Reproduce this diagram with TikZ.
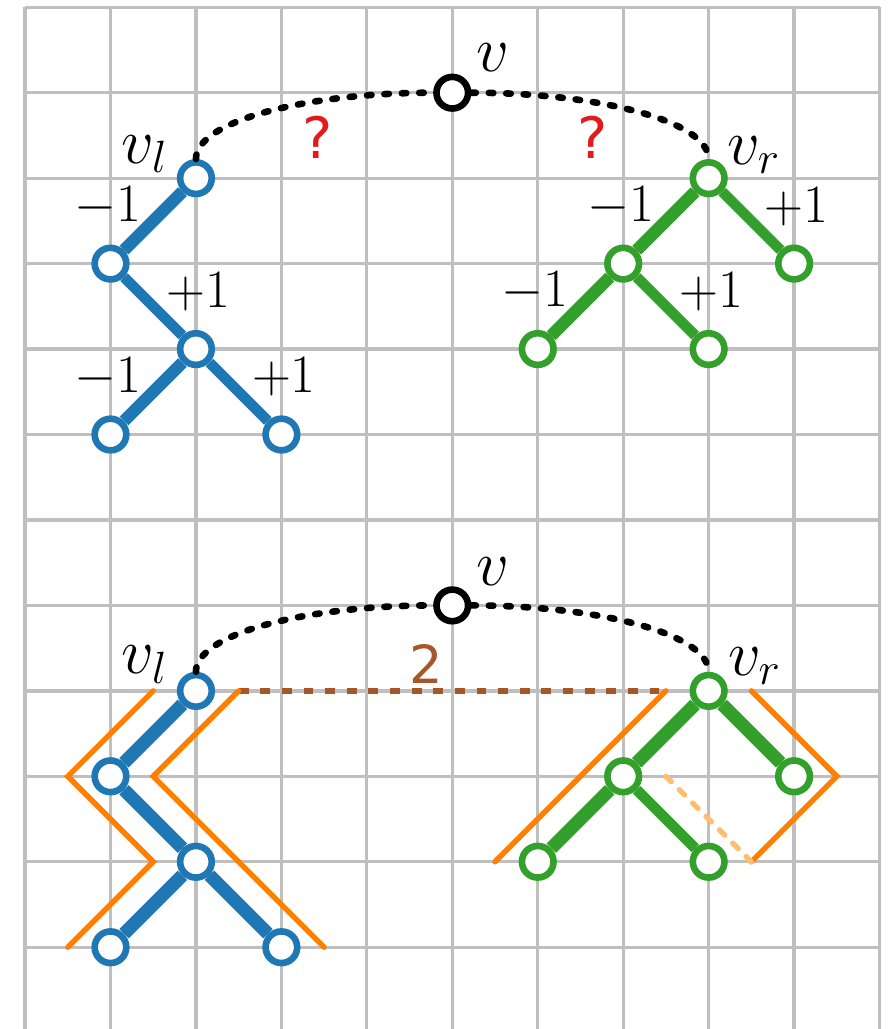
\RequirePackage{fix-cm}
\documentclass[tikz,border=0pt]{standalone}
\usepackage{fontspec}
\newfontfamily\dejavu{DejaVu Sans}
\definecolor{treeblue}{HTML}{1F78B4}
\definecolor{treegreen}{HTML}{33A02C}
\definecolor{cutorange}{HTML}{FF7F00}
\definecolor{paleorange}{HTML}{FDBF6F}
\definecolor{gapbrown}{HTML}{A65628}
\definecolor{askred}{HTML}{E31A1C}
\definecolor{gridgray}{HTML}{BFBFBF}
\newcommand{\arch}[3]{\draw[dotlink] (#1.north) .. controls +(0,0.44) and +(-1.5,0) .. (#2.west);
\draw[dotlink] (#2.east) .. controls +(1.5,0) and +(0,0.44) .. (#3.north);}

\begin{document}
\begin{tikzpicture}[
  vert/.style = {circle, draw, fill=white, line width=2.2pt, inner sep=0pt, minimum size=3.7mm},
  heavy/.style = {line width=4.1pt},
  heavier/.style = {line width=4.4pt},
  light/.style = {line width=3.5pt},
  wt/.style = {font=\fontsize{18}{21}\selectfont, text=black},
  wl/.style = {wt, xshift=-5.3mm, yshift=1.7mm},
  wr/.style = {wt, xshift=5.3mm, yshift=1.7mm},
  vname/.style = {font=\fontsize{21.5}{25}\selectfont},
  dotlink/.style = {black, line width=2.2pt, line cap=round, dash pattern=on 1.5pt off 4.3pt},
  cut/.style = {cutorange, line width=1.8pt, line cap=round}]
\useasboundingbox (-0.293,0.043) rectangle (10.146,12.085);
\draw[gridgray, line width=1.1pt] (0,0) grid (10,12);

% first picture: what is on each side?
\node[vert] (v) at (5,11) {};
\node[vert, draw=treeblue] (vl) at (2,10) {};
\node[vert, draw=treeblue] (l1) at (1,9) {};
\node[vert, draw=treeblue] (l2) at (2,8) {};
\node[vert, draw=treeblue] (l3) at (1,7) {};
\node[vert, draw=treeblue] (l4) at (3,7) {};
\node[vert, draw=treegreen] (vr) at (8,10) {};
\node[vert, draw=treegreen] (r1) at (7,9) {};
\node[vert, draw=treegreen] (r2) at (9,9) {};
\node[vert, draw=treegreen] (r3) at (6,8) {};
\node[vert, draw=treegreen] (r4) at (8,8) {};
\draw[treeblue, heavy] (vl) -- node[wl] {$-1$} (l1);
\draw[treeblue, light] (l1) -- node[wr] {$+1$} (l2);
\draw[treeblue, heavy] (l2) -- node[wl] {$-1$} (l3);
\draw[treeblue, light] (l2) -- node[wr] {$+1$} (l4);
\draw[treegreen, heavy] (vr) -- node[wl] {$-1$} (r1);
\draw[treegreen, light] (vr) -- node[wr] {$+1$} (r2);
\draw[treegreen, heavy] (r1) -- node[wl] {$-1$} (r3);
\draw[treegreen, light] (r1) -- node[wr] {$+1$} (r4);
\arch{vl}{v}{vr}
\node[vname] (vt) at ([shift={(0.47,0.41)}]v) {$v$};
\node[vname] (vlt) at ([shift={(-0.6,0.28)}]vl) {$v_l$};
\node[vname] (vrt) at ([shift={(0.53,0.27)}]vr) {$v_r$};
\node[askred, font=\dejavu\fontsize{19}{22}\selectfont] (qa) at (3.43,10.48) {?};
\node[askred, font=\dejavu\fontsize{19}{22}\selectfont] (qb) at (6.64,10.48) {?};

% second picture: the gap between the two sides
\begin{scope}[yshift=-6cm]
\draw[gapbrown, line width=2.1pt, dash pattern=on 3.3pt off 3.9pt] (2.5,10) -- (7.5,10);
\node[gapbrown, font=\dejavu\fontsize{17.5}{21}\selectfont] (gap) at (4.7,10.32) {2};
\draw[cut] (1.5,10) -- (0.5,9) -- (1.5,8) -- (0.5,7);
\draw[cut] (2.5,10) -- (1.5,9) -- (3.5,7);
\draw[cut] (7.5,10) -- (5.5,8);
\draw[cut] (8.5,10) -- (9.5,9) -- (8.5,8);
\draw[paleorange, line width=1.8pt, line cap=round, dash pattern=on 2.5pt off 3.8pt] (7.5,9) -- (8.5,8);
\node[vert] (bv) at (5,11) {};
\node[vert, draw=treeblue] (bvl) at (2,10) {};
\node[vert, draw=treeblue] (bl1) at (1,9) {};
\node[vert, draw=treeblue] (bl2) at (2,8) {};
\node[vert, draw=treeblue] (bl3) at (1,7) {};
\node[vert, draw=treeblue] (bl4) at (3,7) {};
\node[vert, draw=treegreen] (bvr) at (8,10) {};
\node[vert, draw=treegreen] (br1) at (7,9) {};
\node[vert, draw=treegreen] (br2) at (9,9) {};
\node[vert, draw=treegreen] (br3) at (6,8) {};
\node[vert, draw=treegreen] (br4) at (8,8) {};
\draw[treeblue, heavier] (bvl) -- (bl1);
\draw[treeblue, heavier] (bl1) -- (bl2);
\draw[treeblue, heavier] (bl2) -- (bl3);
\draw[treeblue, heavier] (bl2) -- (bl4);
\draw[treegreen, heavier] (bvr) -- (br1);
\draw[treegreen, heavier] (bvr) -- (br2);
\draw[treegreen, heavier] (br1) -- (br3);
\draw[treegreen, light] (br1) -- (br4);
\arch{bvl}{bv}{bvr}
\node[vname] (bvt) at ([shift={(0.47,0.4)}]bv) {$v$};
\node[vname] (bvlt) at ([shift={(-0.6,0.31)}]bvl) {$v_l$};
\node[vname] (bvrt) at ([shift={(0.54,0.29)}]bvr) {$v_r$};
\end{scope}
\end{tikzpicture}
\end{document}
